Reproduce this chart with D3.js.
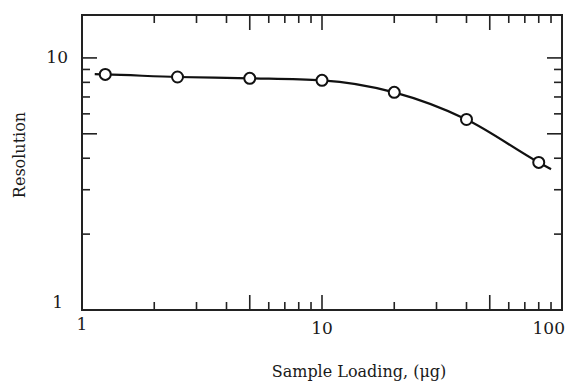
<!DOCTYPE html>
<html>
<head>
<meta charset="utf-8">
<script src="https://cdn.jsdelivr.net/npm/d3@7"></script>
<style>
  body { margin: 0; background: #fff; }
  text { font-family: "DejaVu Serif", "Liberation Serif", serif; fill: #1a1a1a; }
</style>
</head>
<body>
<svg id="chart"></svg>
<script>
// data
var loading = [1.25, 2.5, 5, 10, 20, 40, 80];
var resolution = [8.6, 8.4, 8.3, 8.15, 7.3, 5.7, 3.85];
// short stubs of the drawn curve past the first and last point
var curveLoading = [1.13].concat(loading, [90]);
var curveResolution = [8.62].concat(resolution, [3.62]);

var xTicks = [2, 3, 4, 5, 6, 7, 8, 9, 10, 20, 30, 40, 50, 60, 70, 80, 90, 100];
var xMajor = [5, 10, 50];
var xLabels = [1, 10, 100];
var yTicks = [2, 3, 4, 5, 6, 7, 8, 9, 10];
var yMajor = [5, 10];
var yLabels = [1, 10];

var width = 568, height = 382;
var m = { left: 82, right: 562, top: 15, bottom: 310 };

var svg = d3.select("#chart")
    .attr("width", width)
    .attr("height", height);

var x = d3.scaleLog().domain([1, 100]).range([m.left, m.right]);
var y = d3.scaleLog().domain([1, 14.8]).range([m.bottom, m.top]);

var minorLen = 8, majorLen = 15;
function tlen(v, major) { return major.indexOf(v) >= 0 ? majorLen : minorLen; }

var g = svg.append("g")
    .attr("stroke", "#222")
    .attr("stroke-width", 1.6);

// bottom and top ticks (pointing inward)
g.selectAll(".xb").data(xTicks).enter().append("line")
    .attr("x1", function(d) { return x(d); })
    .attr("x2", function(d) { return x(d); })
    .attr("y1", m.bottom)
    .attr("y2", function(d) { return m.bottom - tlen(d, xMajor); });
g.selectAll(".xt").data(xTicks).enter().append("line")
    .attr("x1", function(d) { return x(d); })
    .attr("x2", function(d) { return x(d); })
    .attr("y1", m.top)
    .attr("y2", function(d) { return m.top + tlen(d, xMajor); });

// left and right ticks
g.selectAll(".yl").data(yTicks).enter().append("line")
    .attr("y1", function(d) { return y(d); })
    .attr("y2", function(d) { return y(d); })
    .attr("x1", m.left)
    .attr("x2", function(d) { return m.left + tlen(d, yMajor); });
g.selectAll(".yr").data(yTicks).enter().append("line")
    .attr("y1", function(d) { return y(d); })
    .attr("y2", function(d) { return y(d); })
    .attr("x1", m.right)
    .attr("x2", function(d) { return m.right - tlen(d, yMajor); });

// frame
svg.append("rect")
    .attr("x", m.left).attr("y", m.top)
    .attr("width", m.right - m.left).attr("height", m.bottom - m.top)
    .attr("fill", "none")
    .attr("stroke", "#222")
    .attr("stroke-width", 2);

// curve
var line = d3.line()
    .x(function(d, i) { return x(curveLoading[i]); })
    .y(function(d, i) { return y(curveResolution[i]); })
    .curve(d3.curveMonotoneX);

svg.append("path")
    .attr("d", line(curveLoading))
    .attr("fill", "none")
    .attr("stroke", "#111")
    .attr("stroke-width", 2.2);

// points
svg.selectAll(".pt").data(loading).enter().append("circle")
    .attr("cx", function(d) { return x(d); })
    .attr("cy", function(d, i) { return y(resolution[i]); })
    .attr("r", 5.5)
    .attr("fill", "#fff")
    .attr("stroke", "#111")
    .attr("stroke-width", 2);

// tick labels
svg.selectAll(".xl").data(xLabels).enter().append("text")
    .attr("x", function(d, i) { return i === xLabels.length - 1 ? x(d) + 3 : x(d); })
    .attr("y", function(d, i) { return i === 0 ? m.bottom + 20 : m.bottom + 24; })
    .attr("text-anchor", function(d, i) { return i === xLabels.length - 1 ? "end" : "middle"; })
    .style("font-size", "17px")
    .text(function(d) { return d; });

svg.selectAll(".ylab").data(yLabels).enter().append("text")
    .attr("x", function(d) { return d === 1 ? m.left - 19 : m.left - 14; })
    .attr("y", function(d) { return d === 1 ? y(d) - 2 : y(d) + 5; })
    .attr("text-anchor", "end")
    .style("font-size", "17px")
    .text(function(d) { return d; });

// axis titles
svg.append("text")
    .attr("x", 359)
    .attr("y", 377)
    .attr("text-anchor", "middle")
    .style("font-size", "16px")
    .text("Sample Loading, (\u03bcg)");

svg.append("text")
    .attr("transform", "translate(25,155)rotate(-90)")
    .attr("text-anchor", "middle")
    .style("font-size", "16px")
    .text("Resolution");
</script>
</body>
</html>
